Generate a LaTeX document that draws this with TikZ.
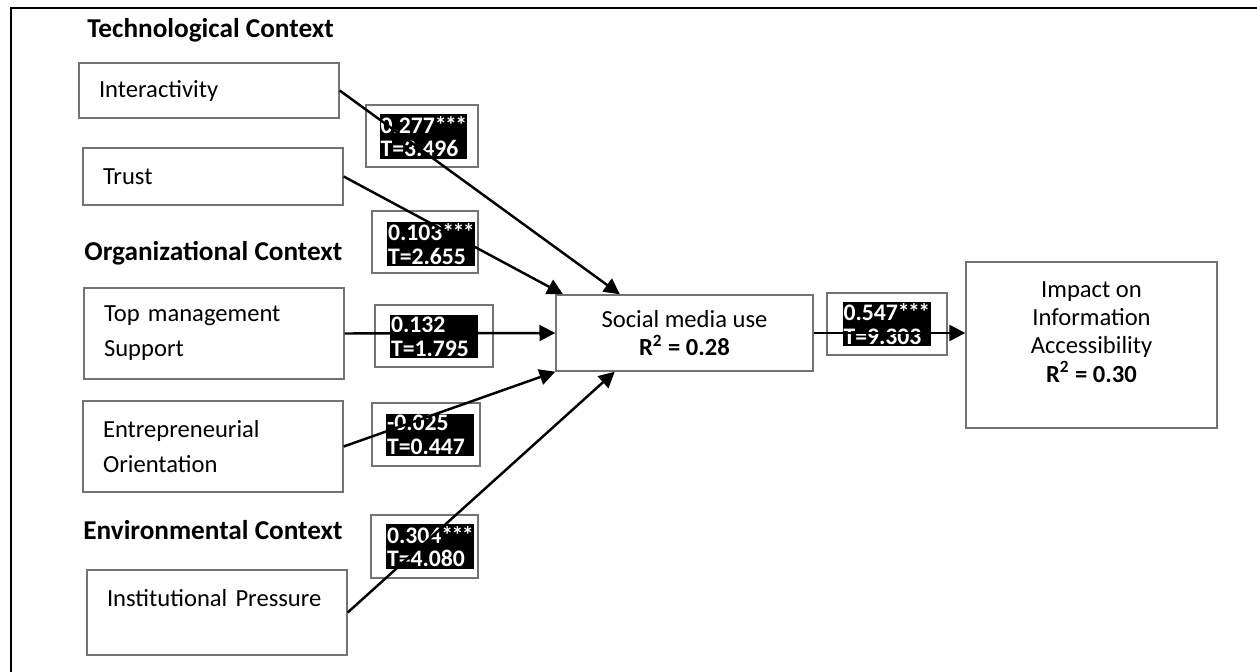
\documentclass[tikz,border=0pt]{standalone}
\usepackage{fontspec}
\setmainfont{Carlito}
\usetikzlibrary{arrows.meta,calc}
\newcommand\signif{*\kern-0.9pt*\kern-0.9pt*}

\begin{document}
\begin{tikzpicture}[x=0.02cm, y=-0.02cm,
    factor/.style={draw=black!55, line width=0.8pt, text width=4.4cm, inner xsep=0.4cm,
      align=left, font=\fontsize{14}{20}\selectfont},
    outcome/.style={draw=black!55, line width=0.8pt, align=center, font=\fontsize{14}{16}\selectfont},
    context/.style={anchor=west, inner sep=0pt, font=\bfseries\fontsize{15.5}{18}\selectfont},
    coefframe/.style={draw=black!55, line width=0.8pt, fill=white},
    coef/.style={fill=black, text=white, text width=1.72cm, inner xsep=0.02cm, inner ysep=1pt,
      minimum height=0.86cm, align=left, font=\bfseries\fontsize{13.5}{13.5}\selectfont},
    path/.style={line width=1.4pt, -{Triangle[length=9pt,width=9pt]}}]

  \useasboundingbox (0,0) rectangle (1257,672);
  % frame
  \draw[line width=1.7pt] (11,672) -- (11,8) -- (1257,8);

  % contexts
  \node[context] (tech) at (87,30) {Technological Context};
  \node[context] (org) at (84,253) {Organizational Context};
  \node[context] (env) at (83,530) {Environmental Context};

  % factors
  \node[factor, minimum height=55*0.02cm] (inter) at (209,90.5) {Interactivity};
  \node[factor, minimum height=57*0.02cm] (trust) at (213,176.5) {Trust};
  \node[factor, minimum height=91*0.02cm] (topm) at (214,333.5) {Top management\\Support};
  \node[factor, minimum height=91*0.02cm] (entre) at (213,446.5) {Entrepreneurial\\Orientation};
  \node[factor, minimum height=85*0.02cm] (inst) at (217,612.5) {Institutional Pressure\\[-9pt]\strut};

  % outcomes
  \node[outcome, minimum width=257*0.02cm, minimum height=76*0.02cm] (smu) at (684.5,333)
    {Social media use\\\textbf{R\textsuperscript{2} = 0.28}};
  \node[outcome, minimum width=251*0.02cm, minimum height=166*0.02cm] (imp) at (1091.5,345)
    {Impact on\\Information\\Accessibility\\\textbf{R\textsuperscript{2} = 0.30}\\[-6pt]\strut};

  % path coefficients
  \foreach \n/\x/\y/\w/\h in {1/422/136/112/62, 2/425/242/106/62, 3/434/336/118/62,
      4/426/434.5/108/63, 5/424.5/546.5/107/63, 6/887/324/120/62}
    \node[coefframe, minimum width=\w*0.02cm, minimum height=\h*0.02cm] (c\n) at (\x,\y) {};
  \foreach \n/\x/\y/\b/\t in {1/423.5/136.5/0.277\signif/3.496, 2/431/244/0.103\signif/2.655,
      3/434/336.5/0.132/1.795, 4/430/435/-0.025/0.447, 5/430/546.5/0.304\signif/4.080,
      6/886.5/324/0.547\signif/9.303}
    \node[coef] (k\n) at (\x,\y) {\b\\T=\t};

  % arrows
  \draw[path] (inter.east) -- ($(smu.north west)!.25!(smu.north east)$);
  \draw[path] (trust.east) -- ($(smu.north west)!.03!(smu.north east)$);
  \draw[path] (topm.east) -- (smu.west);
  \draw[path] (entre.east) -- (smu.south west);
  \draw[path] (inst.east) -- ($(smu.south west)!.23!(smu.south east)$);
  \draw[path] (smu.east) -- (smu.east -| imp.west);
\end{tikzpicture}
\end{document}
